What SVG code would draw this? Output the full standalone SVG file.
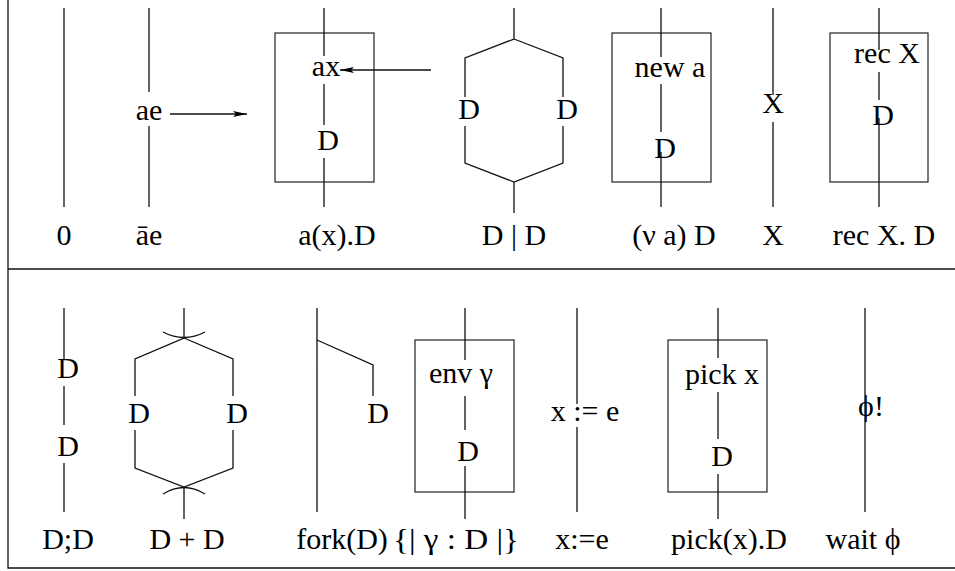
<svg xmlns="http://www.w3.org/2000/svg" width="955" height="571" viewBox="0 0 955 571">
<style>
  .ln { stroke: #111; stroke-width: 1.3; fill: none; }
  .bx { stroke: #222; stroke-width: 1.2; fill: none; }
  text { font-family: "Liberation Serif", "Times New Roman", serif; font-size: 30px; fill: #000; text-anchor: middle; }
</style>
<defs>
  <marker id="arr" viewBox="0 0 14 6" refX="14" refY="3" markerWidth="14" markerHeight="6" markerUnits="userSpaceOnUse" orient="auto">
    <path d="M0,0 L14,3 L0,6 L3,3 z" fill="#000"/>
  </marker>
</defs>
<rect width="955" height="571" fill="#fff"/>
<g id="frame" class="ln">
  <path d="M8,0 V568 H955"/>
  <path d="M8,269 H955"/>
</g>

<!-- top row -->
<g id="n-zero">
  <path class="ln" d="M64,8 V207"/>
  <text x="64" y="245">0</text>
</g>
<g id="n-output">
  <path class="ln" d="M149,8 V92 M149,126 V207"/>
  <text x="149" y="120">ae</text>
  <text x="149" y="245">āe</text>
</g>
<g id="n-input">
  <rect class="bx" x="275" y="33" width="99" height="149"/>
  <path class="ln" d="M324,8 V56 M324,84 V125 M324,158 V207"/>
  <text x="326" y="76">ax</text>
  <text x="328" y="150">D</text>
  <text x="337" y="245">a(x).D</text>
</g>
<g id="n-par">
  <path class="ln" d="M514,8 V39 L465,58 V97 M514,39 L563,58 V97"/>
  <path class="ln" d="M465,126 V163 L514,182 L563,163 V126 M514,182 V213"/>
  <text x="469" y="119">D</text>
  <text x="567" y="119">D</text>
  <text x="514" y="245">D | D</text>
</g>
<g id="n-new">
  <rect class="bx" x="612" y="33" width="99" height="149"/>
  <path class="ln" d="M661,8 V57 M661,84 V132 M661,152 V207"/>
  <text x="670" y="77">new a</text>
  <text x="665" y="158">D</text>
  <text x="674" y="245">(ν a) D</text>
</g>
<g id="n-var">
  <path class="ln" d="M773,8 V95 M773,122 V207"/>
  <text x="773" y="113">X</text>
  <text x="773" y="245">X</text>
</g>
<g id="n-rec">
  <rect class="bx" x="830" y="33" width="98" height="149"/>
  <path class="ln" d="M879,8 V50 M879,72 V100 M879,118 V207"/>
  <text x="887" y="63">rec X</text>
  <text x="883" y="125">D</text>
  <text x="884" y="245">rec X. D</text>
</g>

<!-- bottom row -->
<g id="n-seq">
  <path class="ln" d="M64,308 V360 M64,386 V425 M64,463 V512"/>
  <text x="68" y="378">D</text>
  <text x="68" y="456">D</text>
  <text x="68" y="549">D;D</text>
</g>
<g id="n-choice">
  <path class="ln" d="M184,308 V338 L135,359 V396 M184,338 L233,359 V396"/>
  <path class="ln" d="M135,430 V468 L184,487 L233,468 V430 M184,487 V519"/>
  <path class="ln" d="M163,332 Q184,343 205,332"/>
  <path class="ln" d="M163,494 Q184,481 205,494"/>
  <text x="139" y="423">D</text>
  <text x="237" y="423">D</text>
  <text x="187" y="549">D + D</text>
</g>
<g id="n-fork">
  <path class="ln" d="M317,308 V512 M317,340 L373,365 V396"/>
  <text x="378" y="423">D</text>
  <text x="342" y="549">fork(D)</text>
</g>
<g id="n-env">
  <rect class="bx" x="415" y="340" width="99" height="152"/>
  <path class="ln" d="M465,308 V360 M465,396 V430 M465,466 V519"/>
  <text x="461" y="383">env γ</text>
  <text x="468" y="461">D</text>
  <text x="456" y="549" textLength="126" lengthAdjust="spacingAndGlyphs">{| γ : D |}</text>
</g>
<g id="n-assign">
  <path class="ln" d="M577,308 V404 M577,427 V512"/>
  <text x="585" y="421">x := e</text>
  <text x="582" y="549">x:=e</text>
</g>
<g id="n-pick">
  <rect class="bx" x="668" y="340" width="99" height="152"/>
  <path class="ln" d="M718,308 V358 M718,392 V439 M718,474 V519"/>
  <text x="722" y="384">pick x</text>
  <text x="722" y="466">D</text>
  <text x="729" y="549">pick(x).D</text>
</g>
<g id="n-wait">
  <path class="ln" d="M865,308 V512"/>
  <text x="871" y="416">ϕ!</text>
  <text x="863" y="549">wait  ϕ</text>
</g>

<g id="connectors" class="ln">
  <path d="M170,114 H247" marker-end="url(#arr)"/>
  <path d="M431,70 H340" marker-end="url(#arr)"/>
</g>
</svg>
